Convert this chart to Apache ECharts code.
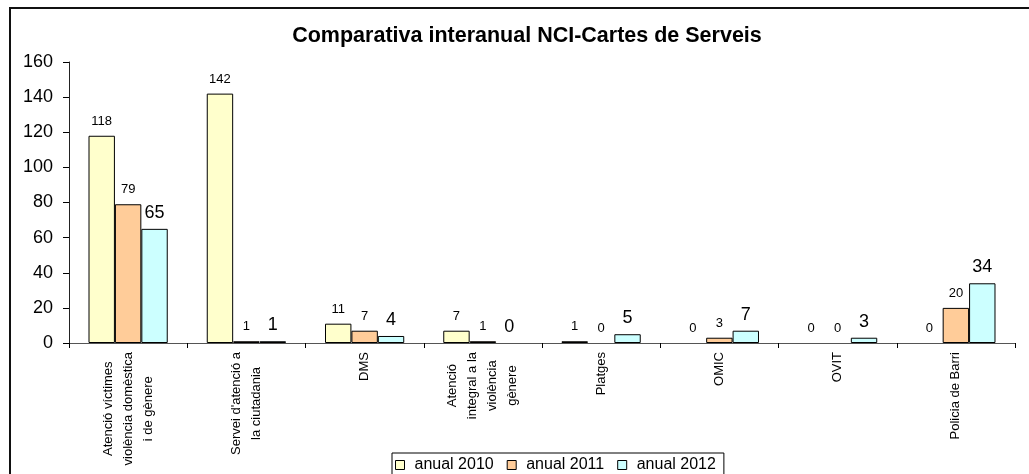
<!DOCTYPE html>
<html>
<head>
<meta charset="utf-8">
<script src="https://cdn.jsdelivr.net/npm/echarts@6/dist/echarts.min.js"></script>
<style>
html,body{margin:0;padding:0;background:#fff;}
#chart{width:1029px;height:474px;}
</style>
</head>
<body>
<div id="chart"></div>
<script>
const categories = [
  "Atenció víctimes\nviolència domèstica\ni de gènere",
  "Servei d'atenció a\nla ciutadania",
  "DMS",
  "Atenció\nintegral a la\nviolència\ngènere",
  "Platges",
  "OMIC",
  "OVIT",
  "Policia de Barri"
];
const seriesNames = ["anual 2010", "anual 2011", "anual 2012"];
const values2010 = [118, 142, 11, 7, 1, 0, 0, 0];
const values2011 = [79, 1, 7, 1, 0, 3, 0, 20];
const values2012 = [65, 1, 4, 0, 5, 7, 3, 34];
const yTicks = { min: 0, max: 160, interval: 20 };

const FONT = "Arial, 'Liberation Sans', sans-serif";
const colors = ["#FFFFCC", "#FFCC99", "#CCFFFF"];
const allValues = [values2010, values2011, values2012];

const chart = echarts.init(document.getElementById('chart'));
const series = allValues.map((vals, i) => ({
  name: seriesNames[i],
  type: 'bar',
  data: vals.map(v => v === 0 ? { value: v, itemStyle: { borderWidth: 0 } } : v),
  barGap: '0%',
  barCategoryGap: '33%',
  itemStyle: { color: colors[i], borderColor: '#000', borderWidth: 1 },
  label: {
    show: true,
    position: 'top',
    distance: i === 2 ? 7 : 8,
    color: '#000',
    fontFamily: FONT,
    fontSize: i === 2 ? 18 : 13
  }
}));

chart.setOption({
  animation: false,
  backgroundColor: '#fff',
  title: {
    text: 'Comparativa interanual NCI-Cartes de Serveis',
    left: 527,
    textAlign: 'center',
    top: 25,
    padding: 0,
    textStyle: { fontFamily: FONT, fontSize: 21.5, fontWeight: 'bold', color: '#000' }
  },
  graphic: [{
    type: 'rect',
    shape: { x: 10, y: 8, width: 1100, height: 600 },
    style: { fill: 'none', stroke: '#111', lineWidth: 2 },
    silent: true,
    z: 100
  }],
  legend: {
    data: seriesNames,
    left: 392,
    top: 453,
    orient: 'horizontal',
    icon: 'rect',
    itemWidth: 9,
    itemHeight: 9,
    itemGap: 13,
    padding: [4, 8, 20, 3],
    backgroundColor: '#fff',
    borderColor: '#000',
    borderWidth: 1,
    itemStyle: { borderColor: '#000', borderWidth: 1 },
    textStyle: { fontFamily: FONT, fontSize: 16, color: '#000', padding: [0, 0, 0, 5] }
  },
  grid: { left: 69, right: 14, top: 62, bottom: 131, containLabel: false },
  xAxis: {
    type: 'category',
    data: categories,
    axisLine: { lineStyle: { color: '#555', width: 1 } },
    axisTick: { show: true, length: 5, lineStyle: { color: '#000' } },
    axisLabel: {
      rotate: 90,
      interval: 0,
      margin: 9,
      color: '#000',
      fontFamily: FONT,
      fontSize: 13,
      lineHeight: 20,
      formatter: function (v) {
        return v.split('\n').map(l => '{c|' + l + '}').join('\n');
      },
      rich: { c: { align: 'center', fontFamily: FONT, fontSize: 13, lineHeight: 20, color: '#000' } }
    }
  },
  yAxis: {
    type: 'value',
    min: yTicks.min,
    max: yTicks.max,
    interval: yTicks.interval,
    splitLine: { show: false },
    axisLine: { show: true, lineStyle: { color: '#222', width: 1 } },
    axisTick: { show: true, length: 6, lineStyle: { color: '#000' } },
    axisLabel: { margin: 16, color: '#000', fontFamily: FONT, fontSize: 18 }
  },
  series: series
});
</script>
</body>
</html>
